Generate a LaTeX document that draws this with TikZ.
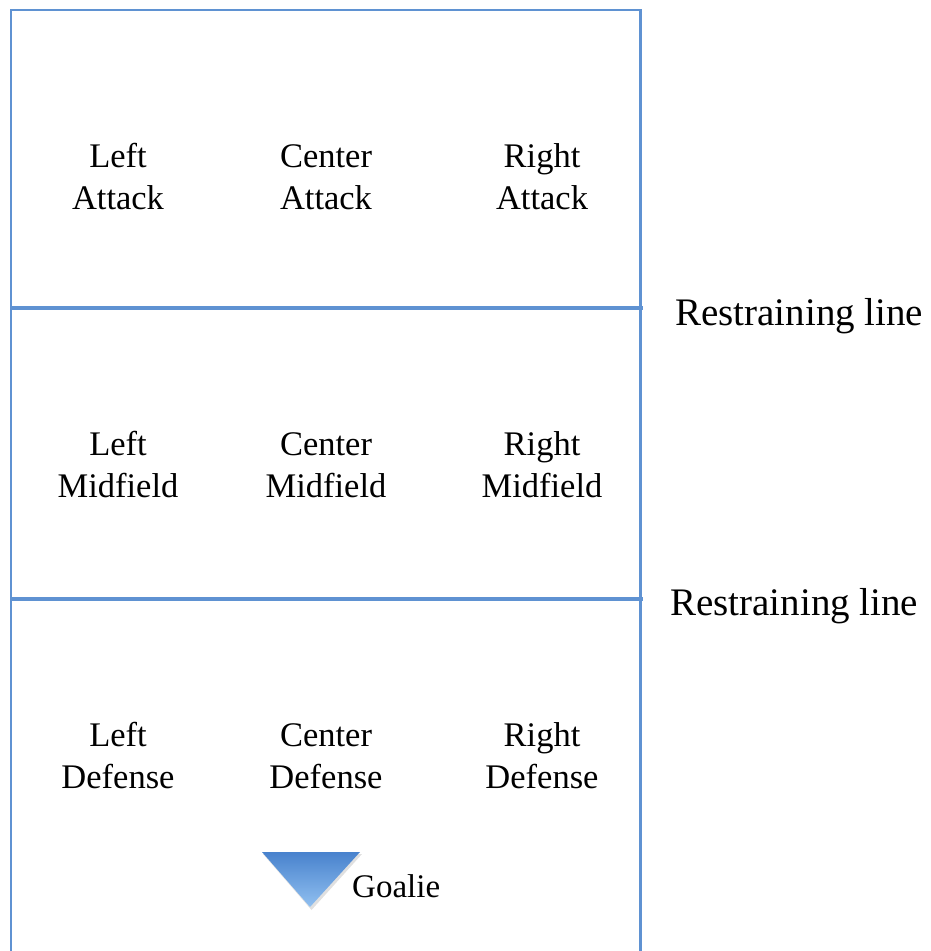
\documentclass[tikz,border=0pt]{standalone}
\usepackage{fontspec}
\setmainfont{Liberation Serif}
\definecolor{fieldblue}{RGB}{95,146,210}
\definecolor{goaltop}{RGB}{72,130,205}
\definecolor{goalbot}{RGB}{145,192,240}
\begin{document}
\begin{tikzpicture}[x=1pt,y=-1pt,
  poslabel/.style={font=\fontsize{34.5}{42}\selectfont, anchor=base, inner sep=0pt},
  rlabel/.style={font=\fontsize{39}{46}\selectfont, anchor=base west, inner sep=0pt},
  border/.style={draw=fieldblue, line width=2.5pt},
  rline/.style={draw=fieldblue, line width=3.6pt}]
\useasboundingbox (0,0) rectangle (930,951);
\fill[white] (0,0) rectangle (930,951);
% field border
\coordinate (bl) at (11,951);
\coordinate (tl) at (11,10);
\coordinate (tr) at (640.5,10);
\coordinate (br) at (640.5,951);
\draw[border, line join=miter] (bl) -- (tl) -- (tr) -- (br);
% restraining lines
\coordinate (r1a) at (12,308);
\coordinate (r1b) at (643,308);
\coordinate (r2a) at (12,599);
\coordinate (r2b) at (643,599);
\draw[rline] (r1a) -- (r1b);
\draw[rline] (r2a) -- (r2b);
\node[rlabel] (rl1) at (675,325) {Restraining line};
\node[rlabel] (rl2) at (670,615) {Restraining line};
% attack
\node[poslabel] (la1) at (118,167) {Left};
\node[poslabel] (la2) at (118,209) {Attack};
\node[poslabel] (ca1) at (326,167) {Center};
\node[poslabel] (ca2) at (326,209) {Attack};
\node[poslabel] (ra1) at (542,167) {Right};
\node[poslabel] (ra2) at (542,209) {Attack};
% midfield
\node[poslabel] (lm1) at (118,455) {Left};
\node[poslabel] (lm2) at (118,497) {Midfield};
\node[poslabel] (cm1) at (326,455) {Center};
\node[poslabel] (cm2) at (326,497) {Midfield};
\node[poslabel] (rm1) at (542,455) {Right};
\node[poslabel] (rm2) at (542,497) {Midfield};
% defense
\node[poslabel] (ld1) at (118,746) {Left};
\node[poslabel] (ld2) at (118,788) {Defense};
\node[poslabel] (cd1) at (326,746) {Center};
\node[poslabel] (cd2) at (326,788) {Defense};
\node[poslabel] (rd1) at (542,746) {Right};
\node[poslabel] (rd2) at (542,788) {Defense};
% goalie
\fill[black, opacity=0.12] (263,854) -- (362,854) -- (311.5,910) -- cycle;
\shade[top color=goaltop, bottom color=goalbot] (262,852) -- (360,852) -- (310,907) -- cycle;
\node[font=\fontsize{33}{40}\selectfont, anchor=base west, inner sep=0pt] (goalie) at (352,897) {Goalie};
\end{tikzpicture}
\end{document}
